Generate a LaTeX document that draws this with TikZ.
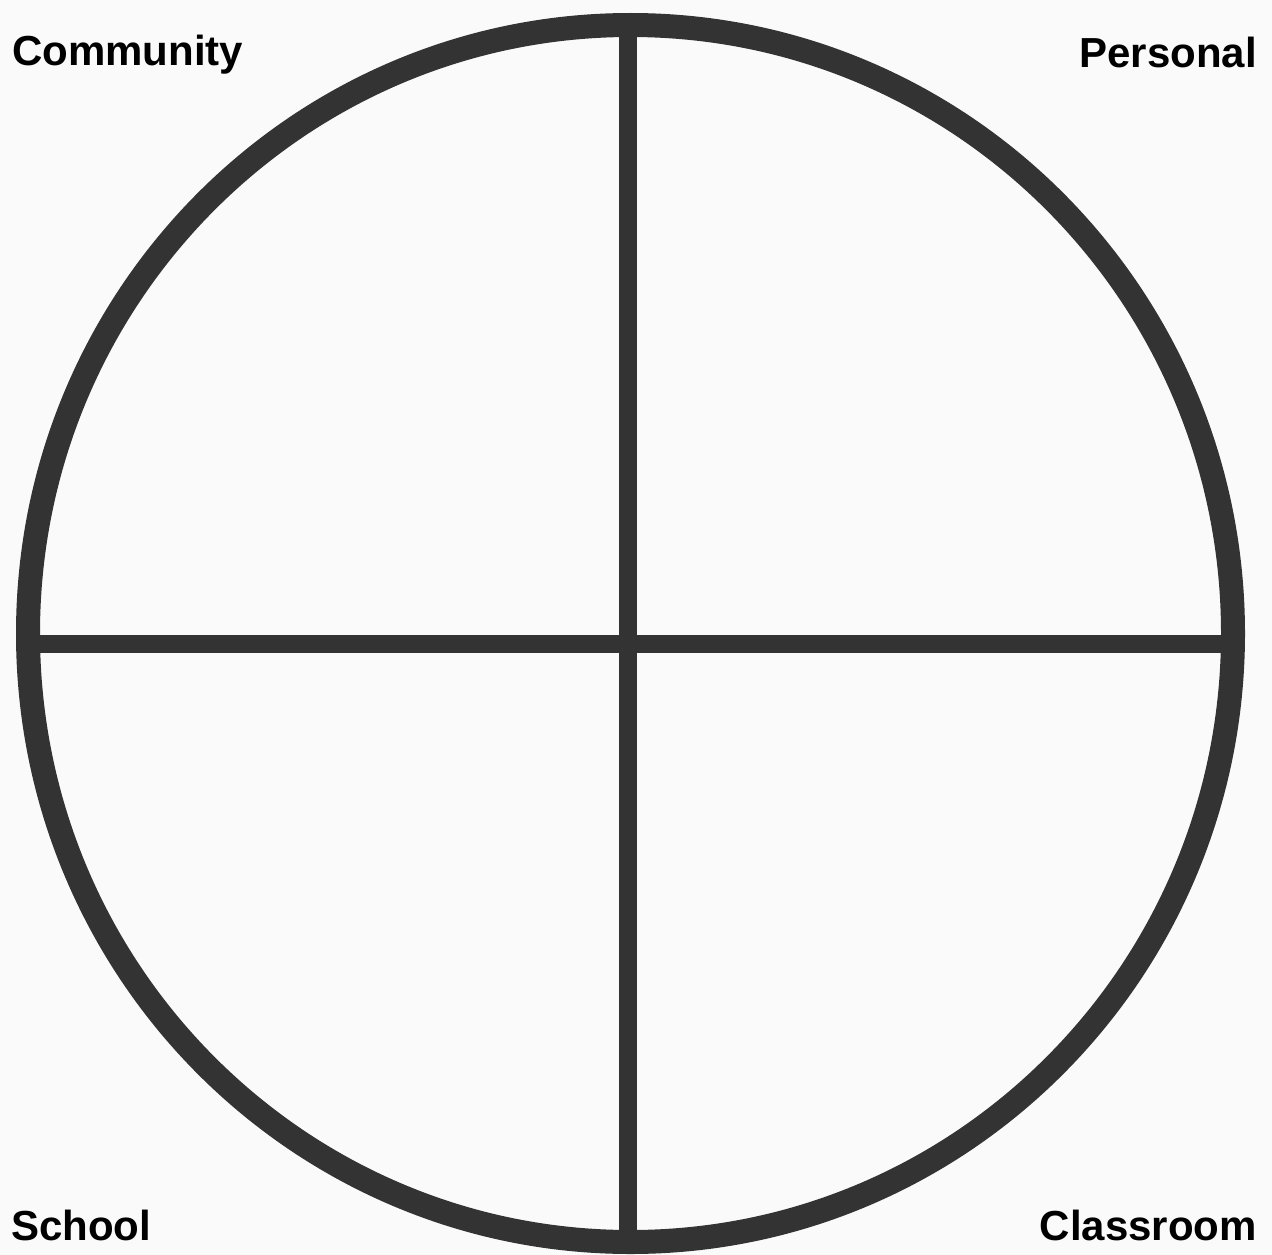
\documentclass[tikz,border=0pt]{standalone}
\usepackage{fontspec}
\setmainfont{Liberation Sans}
\definecolor{bg}{HTML}{FAFAFA}
\definecolor{ink}{HTML}{333333}
\tikzset{
  ring/.style={draw=ink, line width=24pt},
  divider/.style={draw=ink, line width=18pt},
  label/.style={inner sep=0pt, font=\fontsize{42}{50}\selectfont\bfseries, text=black}
}
\begin{document}
\begin{tikzpicture}[x=1pt,y=-1pt]
\fill[bg] (0,0) rectangle (1272,1255);
\useasboundingbox (0,0) rectangle (1272,1255);
\draw[ring] (630.5,633.5) ellipse [x radius=602.5, y radius=608.5];
\coordinate (top) at (628,30);
\coordinate (bottom) at (628,1236);
\coordinate (left) at (30,644);
\coordinate (right) at (1230,644);
\draw[divider] (top) -- (bottom);
\draw[divider] (left) -- (right);
\node[label, anchor=base west] (community) at (12,66) {Community};
\node[label, anchor=base east] (personal) at (1257,68) {Personal};
\node[label, anchor=base west] (school) at (11,1240) {School};
\node[label, anchor=base east] (classroom) at (1257,1240) {Classroom};
\end{tikzpicture}
\end{document}
